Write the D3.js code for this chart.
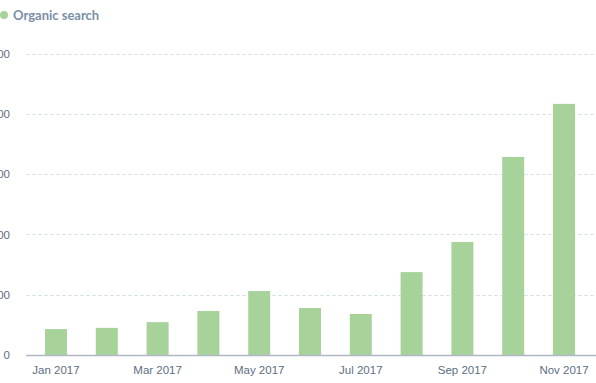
<!DOCTYPE html>
<html>
<head>
<meta charset="utf-8">
<script src="https://cdn.jsdelivr.net/npm/d3@7"></script>
<style>
  body { margin: 0; background: #fff; }
  svg { display: block; font-family: Lato, 'Open Sans', sans-serif; }
</style>
</head>
<body>
<div class="chart-container"></div>
<script>
// data
const months = ['Jan 2017', 'Feb 2017', 'Mar 2017', 'Apr 2017', 'May 2017', 'Jun 2017',
    'Jul 2017', 'Aug 2017', 'Sep 2017', 'Oct 2017', 'Nov 2017'];
const organicSearch = [86, 90, 109, 146, 212, 156, 136, 275, 375, 657, 833];
const yTicks = [0, 200, 400, 600, 800, 1000];
const seriesName = 'Organic search';

const width = 596;
const height = 383;
const barColor = '#a7d39b';

const svg = d3.select('.chart-container')
    .append('svg')
    .attr('width', width)
    .attr('height', height);

// scales
const xScale = d3.scaleBand()
    .domain(months)
    .range([30.6, 589.4])
    .paddingInner(0.567)
    .paddingOuter(0.2835);

const yScale = d3.scaleLinear()
    .domain([0, 1000])
    .range([355, 53.5]);

// grid + y labels (left edge of the labels is cropped, as in the original)
const yAxis = d3.axisLeft(yScale)
    .tickValues(yTicks)
    .tickFormat(d3.format(','))
    .tickSize(0)
    .tickPadding(0);

const yAxisDraw = svg.append('g')
    .attr('class', 'y axis')
    .attr('transform', 'translate(10, 0)')
    .call(yAxis);

yAxisDraw.select('.domain').remove();
yAxisDraw.selectAll('text')
    .attr('fill', '#5e6e82')
    .style('font-size', '11.5px');

svg.append('g')
    .attr('class', 'grid')
    .selectAll('line')
    .data(yTicks.filter(d => d > 0))
    .enter()
        .append('line')
        .attr('x1', 26)
        .attr('x2', width)
        .attr('y1', d => Math.round(yScale(d)) + 0.5)
        .attr('y2', d => Math.round(yScale(d)) + 0.5)
        .style('stroke', '#dce5ee')
        .style('stroke-dasharray', '4,2');

// bars
svg.append('g')
    .attr('class', 'bars')
    .selectAll('rect')
    .data(organicSearch)
    .enter()
        .append('rect')
        .attr('x', (d, i) => xScale(months[i]))
        .attr('width', xScale.bandwidth())
        .attr('y', d => yScale(d))
        .attr('height', d => yScale(0) - yScale(d))
        .style('fill', barColor);

// x axis
const xAxis = d3.axisBottom(xScale)
    .tickValues(months.filter((d, i) => i % 2 === 0))
    .tickSize(0)
    .tickPadding(11);

const xAxisDraw = svg.append('g')
    .attr('class', 'x axis')
    .attr('transform', `translate(0, ${yScale(0)})`)
    .call(xAxis);

xAxisDraw.select('.domain').remove();
xAxisDraw.selectAll('text')
    .attr('fill', '#5e6e82')
    .style('font-size', '11.5px');

svg.append('line')
    .attr('x1', 26)
    .attr('x2', width)
    .attr('y1', yScale(0) + 0.5)
    .attr('y2', yScale(0) + 0.5)
    .style('stroke', '#aeb8c6')
    .style('stroke-width', 1.5);

// legend
const legend = svg.append('g').attr('class', 'legend');

legend.append('circle')
    .attr('cx', 4)
    .attr('cy', 15)
    .attr('r', 4)
    .style('fill', barColor);

legend.append('text')
    .attr('x', 13)
    .attr('y', 15)
    .text(seriesName)
    .style('dominant-baseline', 'central')
    .style('font-size', '13px')
    .style('font-weight', 'bold')
    .style('fill', '#7a8ea8');
</script>
</body>
</html>
